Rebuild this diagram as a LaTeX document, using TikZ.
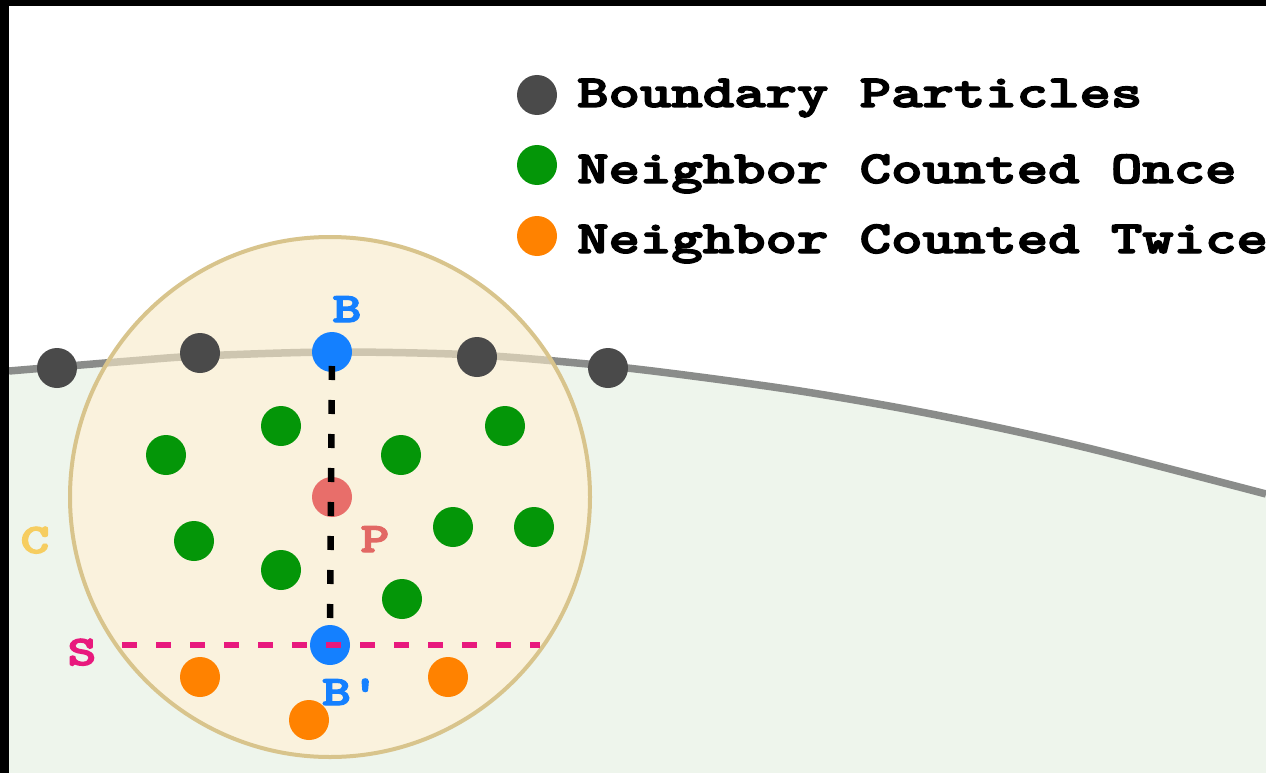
\documentclass[tikz,border=0pt]{standalone}
\usepackage{graphicx}
\newcommand{\heavytxt}[1]{\special{pdf:literal direct 2 Tr 1.3 w}#1\special{pdf:literal direct 0 Tr}}
\definecolor{bggreen}{RGB}{238,245,236}
\definecolor{bline}{RGB}{138,140,138}
\definecolor{blinein}{RGB}{206,198,176}
\definecolor{rangefill}{RGB}{250,242,221}
\definecolor{rangeedge}{RGB}{216,196,140}
\definecolor{bgray}{RGB}{74,74,74}
\definecolor{ngreen}{RGB}{4,150,8}
\definecolor{norange}{RGB}{255,130,0}
\definecolor{bblue}{RGB}{20,128,255}
\definecolor{pred}{RGB}{232,110,106}
\definecolor{spink}{RGB}{232,25,125}
\definecolor{cyellow}{RGB}{246,205,96}
\definecolor{plabel}{RGB}{226,104,100}
\begin{document}
\begin{tikzpicture}[x=1pt,y=-1pt,
  dot/.style={circle,inner sep=0pt,minimum size=40pt,draw=none},
  legtext/.style={anchor=base west,inner sep=0pt,text=black,
    font=\ttfamily\bfseries\fontsize{46}{52}\selectfont},
  lbl/.style={inner sep=0pt,font=\ttfamily\bfseries\fontsize{42}{48}\selectfont},
  blackdash/.style={draw=black,line width=6.5pt,dash pattern=on 14pt off 20pt,dash phase=20pt},
  pinkdash/.style={draw=spink,line width=6.5pt,dash pattern=on 15pt off 19pt},
]
\useasboundingbox (0,0) rectangle (1266,773);
\fill[white] (0,0) rectangle (1266,773);
% fluid region below the boundary
\fill[bggreen] plot[smooth] coordinates {(9,371) (57,367) (130,361) (200,356) (333,352) (476,355) (608,366) (700,377) (800,391) (900,408) (1000,428) (1100,451) (1266,494)}
  -- (1266,773) -- (9,773) -- cycle;
\draw[bline,line width=7.5pt] plot[smooth] coordinates {(9,371) (57,367) (130,361) (200,356) (333,352) (476,355) (608,366) (700,377) (800,391) (900,408) (1000,428) (1100,451) (1266,494)};
% support circle
\node[circle,minimum size=520pt,inner sep=0pt,fill=rangefill] (range) at (330,497) {};
\begin{scope}
  \clip (range.center) circle (259pt);
  \draw[blinein,line width=7.5pt] plot[smooth] coordinates {(9,371) (57,367) (130,361) (200,356) (333,352) (476,355) (608,366) (700,377) (800,391) (900,408) (1000,428) (1100,451) (1266,494)};
\end{scope}
\draw[rangeedge,line width=4pt] (range.center) circle (260pt);
% boundary particles
\node[dot,fill=bgray] (g1) at (57,368) {};
\node[dot,fill=bgray] (g2) at (200,353) {};
\node[dot,fill=bgray] (g3) at (477,357) {};
\node[dot,fill=bgray] (g4) at (608,368) {};
% neighbours counted once
\node[dot,fill=ngreen] (n1) at (166,455) {};
\node[dot,fill=ngreen] (n2) at (281,426) {};
\node[dot,fill=ngreen] (n3) at (401,455) {};
\node[dot,fill=ngreen] (n4) at (505,426) {};
\node[dot,fill=ngreen] (n5) at (194,541) {};
\node[dot,fill=ngreen] (n6) at (281,570) {};
\node[dot,fill=ngreen] (n7) at (453,527) {};
\node[dot,fill=ngreen] (n8) at (534,527) {};
\node[dot,fill=ngreen] (n9) at (402,599) {};
% neighbours counted twice
\node[dot,fill=norange] (o1) at (200,677) {};
\node[dot,fill=norange] (o2) at (448,677) {};
\node[dot,fill=norange] (o3) at (309,720) {};
% B, P, B'
\node[dot,fill=bblue] (B) at (332,352) {};
\node[dot,fill=pred] (P) at (332,497) {};
\node[dot,fill=bblue] (Bp) at (330,645) {};
% mirror line S
\coordinate (sL) at (122,645);
\coordinate (sR) at (540,645);
\draw[blackdash] (B.center) -- (Bp.north);
\draw[pinkdash] (sL) -- (sR);
% labels
\node[lbl,text=bblue,anchor=base] (lB) at (347,322) {\scalebox{1.3}[1]{\heavytxt{B}}};
\node[lbl,text=bblue,anchor=base west] (lBp) at (322,705) {\scalebox{1.3}[1]{\heavytxt{B'}}};
\node[lbl,text=plabel,anchor=base] (lP) at (375,552) {\scalebox{1.3}[1]{\heavytxt{P}}};
\node[lbl,text=cyellow,anchor=base] (lC) at (35,553) {\scalebox{1.3}[1]{\heavytxt{C}}};
\node[lbl,text=spink,anchor=base] (lS) at (82,665) {\scalebox{1.3}[1]{\heavytxt{S}}};
% legend
\node[dot,fill=bgray] (k1) at (537,95) {};
\node[dot,fill=ngreen] (k2) at (537,165) {};
\node[dot,fill=norange] (k3) at (537,236) {};
\node[legtext] (t1) at (577,107) {\scalebox{1.3}[1]{\heavytxt{Boundary Particles}}};
\node[legtext] (t2) at (577,183) {\scalebox{1.3}[1]{\heavytxt{Neighbor Counted Once}}};
\node[legtext] (t3) at (577,253) {\scalebox{1.3}[1]{\heavytxt{Neighbor Counted Twice}}};
% frame
\fill[black] (0,0) rectangle (1266,6);
\fill[black] (0,0) rectangle (9,773);
\end{tikzpicture}
\end{document}
